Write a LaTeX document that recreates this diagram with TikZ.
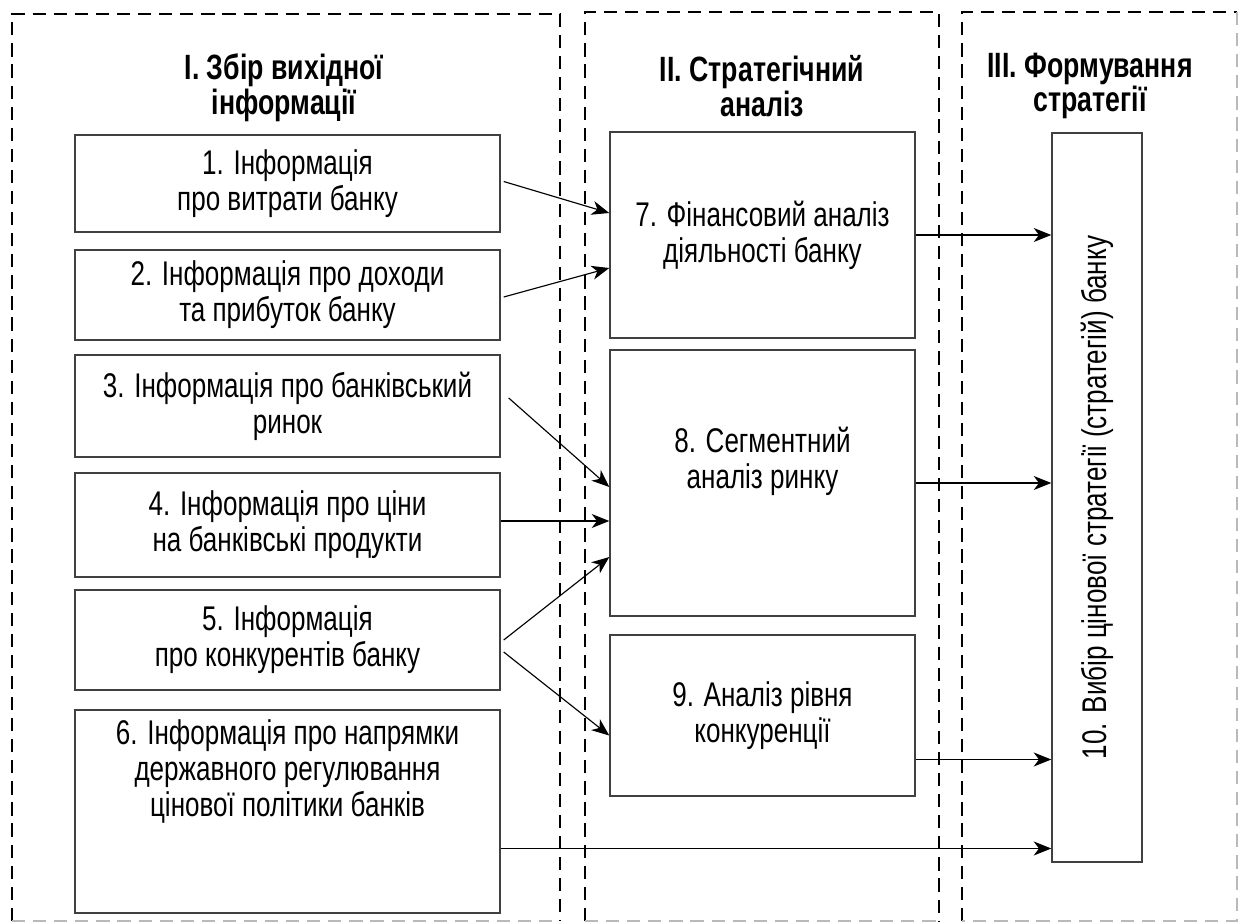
\documentclass[tikz,border=0pt]{standalone}
\usepackage{fontspec}
\setmainfont[FakeStretch=0.76]{Liberation Sans}
\usepackage{tikz}
\usetikzlibrary{arrows.meta, positioning, calc}

\begin{document}
\begin{tikzpicture}[x=0.02cm, y=-0.02cm,
    panel/.style={line width=1.4pt, dash pattern=on 7.5pt off 4.5pt},
    infobox/.style={draw=black!75, line width=0.85pt, align=center, inner sep=2pt},
    boxtext/.style={align=center, font=\fontsize{19.5pt}{20.5pt}\selectfont},
    ptitle/.style={align=center, font=\fontsize{20pt}{18pt}\selectfont\bfseries},
    flow/.style={line width=0.65pt, -{Stealth[length=10pt, width=8pt, inset=3pt]}}]
\useasboundingbox (0,0) rectangle (1238,923);

% Panels
\draw[panel] (12,921) -- (12,14) -- (560,14) -- (560,921);
\draw[panel, gray!55] (12,921) -- (560,921);
\draw[panel] (585,921) -- (585,12) -- (939,12) -- (939,921);
\draw[panel, gray!55] (585,921) -- (939,921);
\draw[panel] (962,921) -- (962,12) -- (1237,12);
\draw[panel, gray!55] (1237,12) -- (1237,921) -- (962,921);

\node[ptitle] (t1) at (284,88) {I. Збір вихідної\\інформації};
\node[ptitle] (t2) at (762,86) {II. Стратегічний\\аналіз};
\node[ptitle] (t3) at (1090,86) {III. Формування\\стратегії};

% Information boxes
\node[infobox, boxtext, minimum width=8.5cm, minimum height=1.94cm] (b1) at (287.5,183.5)
    {1. Інформація\\про витрати банку};
\node[infobox, boxtext, minimum width=8.5cm, minimum height=1.8cm] (b2) at (287.5,295)
    {2. Інформація про доходи\\та прибуток банку};
\node[infobox, boxtext, minimum width=8.5cm, minimum height=2.04cm] (b3) at (287.5,406)
    {3. Інформація про банківський\\ринок};
\node[infobox, boxtext, minimum width=8.5cm, minimum height=2.08cm] (b4) at (287.5,525)
    {4. Інформація про ціни\\на банківські продукти};
\node[infobox, boxtext, minimum width=8.5cm, minimum height=2.0cm] (b5) at (287.5,640)
    {5. Інформація\\про конкурентів банку};
\node[infobox, minimum width=8.5cm, minimum height=4.06cm] (b6) at (287.5,811.5) {};
\node[boxtext, anchor=north] (t6) at ($(b6.north)+(0,4)$)
    {6. Інформація про напрямки\\державного регулювання\\цінової політики банків};

% Analysis boxes
\node[infobox, boxtext, minimum width=6.1cm, minimum height=4.12cm] (b7) at (762.5,235)
    {7. Фінансовий аналіз\\діяльності банку};
\node[infobox, minimum width=6.1cm, minimum height=5.32cm] (b8) at (762.5,483) {};
\node[boxtext] (t8) at (762.5,461) {8. Сегментний\\аналіз ринку};
\node[infobox, boxtext, minimum width=6.1cm, minimum height=3.22cm] (b9) at (762.5,715.5)
    {9. Аналіз рівня\\конкуренції};

% Strategy box
\node[infobox, boxtext, minimum width=1.8cm, minimum height=14.58cm] (b10) at (1097,497.5)
    {\rotatebox{90}{10. Вибір цінової стратегії (стратегій) банку}};

% Connectors
\draw[flow] ($(b1.east)+(3,-2)$) -- ($(b7.west)+(0,-22)$);
\draw[flow] ($(b2.east)+(3,2)$) -- ($(b7.west)+(0,33)$);
\draw[flow] ($(b3.east)+(8,-8)$) -- ($(b8.west)+(0,4)$);
\draw[flow] ($(b4.east)+(0,-4)$) -- ($(b8.west)+(0,38)$);
\draw[flow] ($(b5.east)+(3,0)$) -- ($(b8.west)+(0,74)$);
\draw[flow] ($(b5.east)+(3,12)$) -- ($(b9.west)+(0,20)$);
\draw[flow] (b7.east) -- (b7.east -| b10.west);
\draw[flow] (b8.east) -- (b8.east -| b10.west);
\draw[flow] ($(b9.east)+(0,44)$) -- ($(b9.east -| b10.west)+(0,44)$);
\draw[flow] ($(b6.east)+(0,37)$) -- ($(b6.east -| b10.west)+(0,37)$);
\end{tikzpicture}
\end{document}
